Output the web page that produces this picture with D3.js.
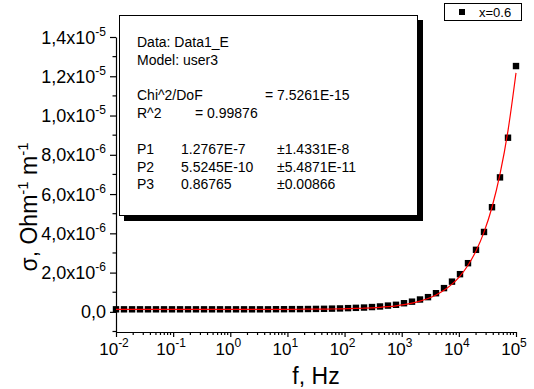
<!DOCTYPE html>
<head>
  <meta charset="utf-8">
  <script src="https://cdn.jsdelivr.net/npm/d3@7"></script>
  <style>
    body { margin: 0; background: #fff; }
    text { font-family: Arial, "Liberation Sans", sans-serif; fill: #000; }
  </style>
</head>
<body>
<script>

// frequency, Hz
var freq = [0.01, 0.0138, 0.0191, 0.0263, 0.0363, 0.0501, 0.0692, 0.0955, 0.132, 0.182,
            0.251, 0.347, 0.479, 0.661, 0.912, 1.26, 1.74, 2.40, 3.31, 4.57,
            6.31, 8.71, 12.0, 16.6, 22.9, 31.6, 43.7, 60.3, 83.2, 115,
            158, 219, 302, 417, 575, 794, 1096, 1514, 2089, 2884,
            3981, 5495, 7586, 10471, 14454, 19953, 27542, 38019, 52481, 72444, 100000]

// measured sigma, units of 1e-6 Ohm^-1 m^-1
var sigma = [0.13, 0.13, 0.13, 0.13, 0.13, 0.13, 0.13, 0.13, 0.13, 0.13,
             0.13, 0.13, 0.13, 0.13, 0.13, 0.13, 0.13, 0.13, 0.13, 0.13,
             0.135, 0.135, 0.14, 0.14, 0.145, 0.15, 0.155, 0.165, 0.175, 0.19,
             0.205, 0.22, 0.245, 0.275, 0.32, 0.36, 0.44, 0.52, 0.63, 0.75,
             0.95, 1.21, 1.54, 1.92, 2.48, 3.16, 4.07, 5.33, 6.85, 8.87, 12.52]

// red fit curve, same frequencies, units of 1e-6
var fitSigma = [0.128, 0.128, 0.128, 0.128, 0.128, 0.128, 0.128, 0.128, 0.128, 0.128,
                0.128, 0.128, 0.128, 0.128, 0.128, 0.128, 0.128, 0.129, 0.129, 0.13,
                0.13, 0.131, 0.132, 0.134, 0.136, 0.139, 0.142, 0.147, 0.153, 0.161,
                0.173, 0.187, 0.206, 0.231, 0.265, 0.309, 0.368, 0.445, 0.547, 0.683,
                0.862, 1.099, 1.412, 1.826, 2.375, 3.10, 4.06, 5.33, 7.01, 9.23, 12.17]

var yTicks = [0, 2e-6, 4e-6, 6e-6, 8e-6, 1e-5, 1.2e-5, 1.4e-5]
var xTicks = [1e-2, 1e-1, 1e0, 1e1, 1e2, 1e3, 1e4, 1e5]

var fitLines = [
  ["Data: Data1_E"],
  ["Model: user3"],
  [],
  ["Chi^2/DoF", "= 7.5261E-15"],
  ["R^2", "=  0.99876"],
  [],
  ["P1", "1.2767E-7", "\u00b11.4331E-8"],
  ["P2", "5.5245E-10", "\u00b15.4871E-11"],
  ["P3", "0.86765", "\u00b10.00866"]
]

var legendLabel = "x=0.6"

var width = 534, height = 389

var svg = d3.select("body").append("svg")
            .attr("width", width)
            .attr("height", height)

var x = d3.scaleLog().domain([1e-2, 1e5]).range([116, 516])
var y = d3.scaleLinear().domain([-1e-6, 1.4e-5]).range([331.5, 37])

var points = freq.map(function(f, i) { return {f: f, s: sigma[i] * 1e-6} })
var fitPts = freq.map(function(f, i) { return {f: f, s: fitSigma[i] * 1e-6} })

// y axis
var yMinor = d3.range(-1e-6, 1.45e-5, 1e-6).filter(function(v) {
  return yTicks.every(function(t) { return Math.abs(t - v) > 1e-9 })
})
var gy = svg.append("g").attr("transform", "translate(116,0)")
gy.call(d3.axisLeft(y).tickValues(yTicks).tickSize(6).tickSizeOuter(0).tickFormat(""))
gy.append("g").selectAll("line").data(yMinor).enter().append("line")
  .attr("x1", -3.5).attr("x2", 0)
  .attr("y1", function(d) { return y(d) }).attr("y2", function(d) { return y(d) })
gy.selectAll("path, line").attr("stroke", "#000").attr("stroke-width", 1.2)

yTicks.forEach(function(v) {
  var t = svg.append("text")
    .attr("x", 106).attr("y", y(v) + 6.5)
    .attr("text-anchor", "end")
    .style("font-size", "18px")
  if (v === 0) {
    t.text("0,0")
  } else {
    var e = Math.floor(Math.log10(v) + 1e-9)
    var m = v / Math.pow(10, e)
    t.append("tspan").text(m.toFixed(1).replace(".", ",") + "x10")
    t.append("tspan").attr("dy", -8).style("font-size", "12px").text(e)
  }
})

// x axis
var xMinor = []
xTicks.slice(0, -1).forEach(function(d) {
  for (var k = 2; k <= 9; k++) xMinor.push(d * k)
})
var gx = svg.append("g").attr("transform", "translate(0,332)")
gx.call(d3.axisBottom(x).tickValues(xTicks).tickSize(5).tickSizeOuter(0).tickFormat(""))
gx.append("g").selectAll("line").data(xMinor).enter().append("line")
  .attr("x1", function(d) { return x(d) }).attr("x2", function(d) { return x(d) })
  .attr("y1", 0).attr("y2", 3)
gx.selectAll("path, line").attr("stroke", "#000").attr("stroke-width", 1.2)

xTicks.forEach(function(v) {
  var t = svg.append("text")
    .attr("x", x(v) - 2).attr("y", 355)
    .attr("text-anchor", "middle")
    .style("font-size", "17px")
  t.append("tspan").text("10")
  t.append("tspan").attr("dy", -8).style("font-size", "12px").text(Math.round(Math.log10(v)))
})

// axis titles
svg.append("text")
   .attr("x", 316).attr("y", 384)
   .attr("text-anchor", "middle")
   .style("font-size", "23px")
   .text("f, Hz")

var yt = svg.append("text")
   .attr("transform", "translate(37,207) rotate(-90)")
   .attr("text-anchor", "middle")
   .style("font-size", "23px")
yt.append("tspan").text("\u03c3, Ohm")
yt.append("tspan").attr("dy", -9).style("font-size", "15px").text("-1")
yt.append("tspan").attr("dy", 9).text(" m")
yt.append("tspan").attr("dy", -9).style("font-size", "15px").text("-1")

// data squares
svg.append("g").selectAll("rect")
   .data(points).enter().append("rect")
   .attr("x", function(d) { return x(d.f) - 3.2 })
   .attr("y", function(d) { return y(d.s) - 3.2 })
   .attr("width", 6.4).attr("height", 6.4)
   .attr("fill", "#000")

// fit line
var line = d3.line()
             .x(function(d) { return x(d.f) })
             .y(function(d) { return y(d.s) })
             .curve(d3.curveMonotoneX)
svg.append("path")
   .datum(fitPts)
   .attr("d", line)
   .attr("fill", "none")
   .attr("stroke", "#ff0000")
   .attr("stroke-width", 1.2)

// fit results box with shadow
svg.append("rect").attr("x", 124).attr("y", 20).attr("width", 299).attr("height", 201).attr("fill", "#000")
svg.append("rect").attr("x", 119.5).attr("y", 15.5).attr("width", 298).attr("height", 200)
   .attr("fill", "#fff").attr("stroke", "#000").attr("stroke-width", 1)

var colX = [137, 181, 277]
fitLines.forEach(function(row, i) {
  row.forEach(function(s, j) {
    var cx = colX[j]
    if (i === 3 && j === 1) cx = 265
    if (i === 4 && j === 1) cx = 195
    svg.append("text")
       .attr("x", cx).attr("y", 47 + i * 17.8)
       .style("font-size", "14px")
       .text(s)
  })
})

// legend
svg.append("rect").attr("x", 444.5).attr("y", 3.5).attr("width", 77).attr("height", 17)
   .attr("fill", "#fff").attr("stroke", "#000")
svg.append("rect").attr("x", 459).attr("y", 9).attr("width", 6).attr("height", 6).attr("fill", "#000")
svg.append("text").attr("x", 479).attr("y", 17).style("font-size", "13px").text(legendLabel)

</script>
</body>
